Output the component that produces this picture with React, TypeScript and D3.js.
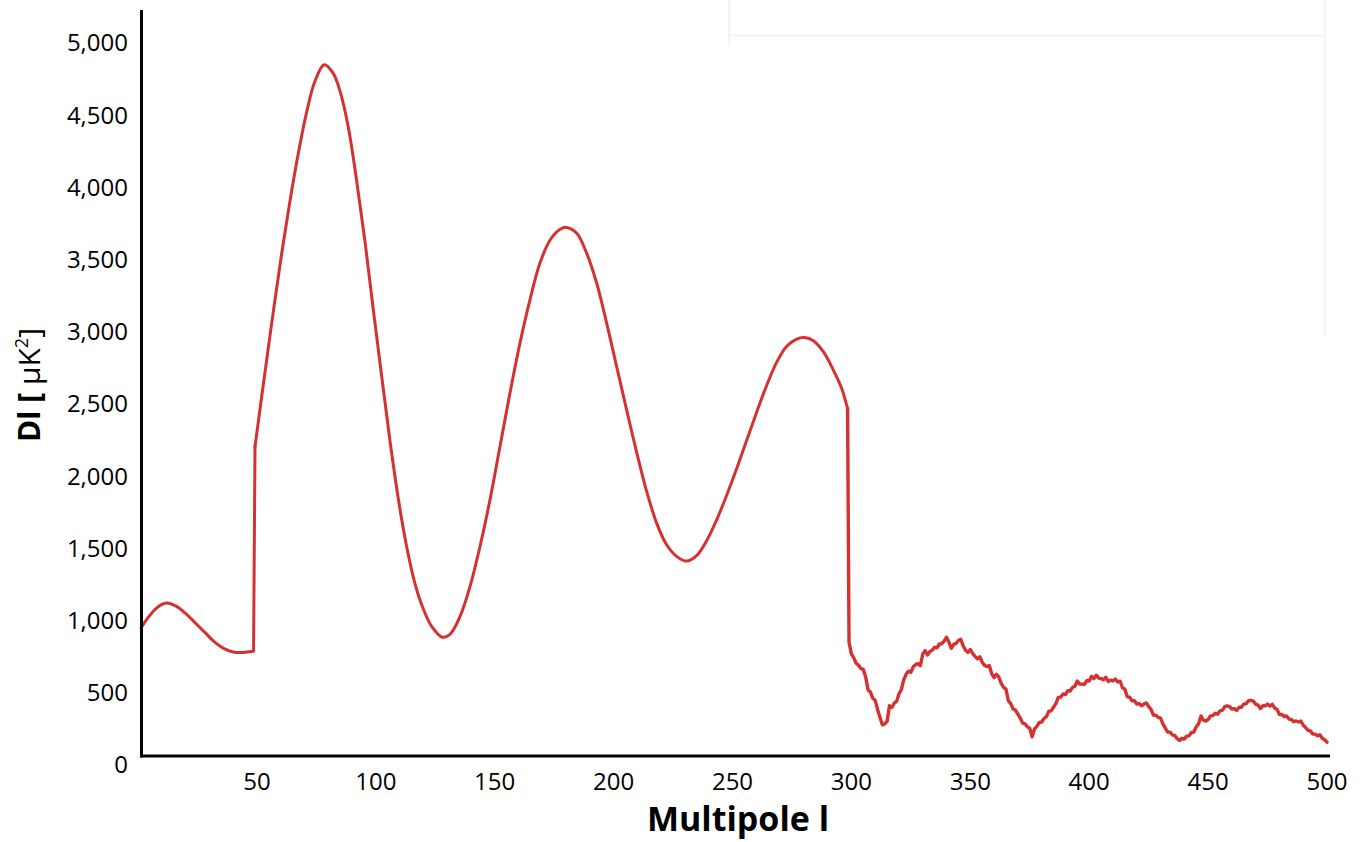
import React from "react";
import * as d3 from "d3";

// ---- data ----
const xTicks = [50, 100, 150, 200, 250, 300, 350, 400, 450, 500];
const yTicks = [0, 500, 1000, 1500, 2000, 2500, 3000, 3500, 4000, 4500, 5000];

// smooth part, first segment (multipole l, Dl)
const segAL = [1.3, 4, 8, 12, 16, 20, 24, 28, 32, 36, 40, 44, 47, 48.6];
const segAD = [949, 1015, 1090, 1122, 1100, 1050, 985, 920, 855, 808, 783, 779, 785, 790];

// smooth part, second segment
const segBL = [
  49.2, 53.4, 56.9, 60.4, 63.9, 67.4, 70.9, 74.4, 78.3, 82.1, 84.9, 88.4, 92, 95.5, 98.9,
  102.5, 106, 109.5, 113, 116.5, 120, 123.5, 128, 131.2, 135.4, 139.6, 143.8, 148, 152.2,
  156.4, 160.6, 164.8, 169, 173.3, 177.5, 180.3, 184.5, 188.7, 192.9, 197.1, 201.3, 205.5,
  209.7, 213.9, 218.1, 222.3, 226.5, 230.7, 234.9, 239.2, 243.4, 247.6, 251.8, 256, 260.2,
  264.4, 268.6, 272.8, 277, 280.3, 284, 288.2, 292.4, 295.9, 298, 298.4,
];
const segBD = [
  2205, 2720, 3140, 3540, 3905, 4235, 4520, 4735, 4850, 4790, 4670, 4420, 4040, 3620, 3160,
  2690, 2240, 1840, 1510, 1255, 1080, 960, 885, 905, 1027, 1235, 1512, 1835, 2204,
  2574, 2920, 3220, 3474, 3636, 3710, 3723, 3682, 3543, 3336, 3059, 2758, 2458,
  2165, 1895, 1675, 1525, 1445, 1412, 1450, 1555, 1700, 1870, 2055, 2250, 2445,
  2630, 2790, 2900, 2950, 2960, 2938, 2862, 2735, 2609, 2493, 2470,
];

// noisy part: one value per multipole, starting at l = 299
const noisyStart = 299;
const noisyD = [
  850, 770, 742, 705, 690, 668, 662, 610, 520, 505, 462, 448, 385, 330, 278, 284, 302, 410, 398, 428,
  440, 492, 522, 590, 628, 650, 642, 680, 695, 702, 688, 768, 792, 762, 786, 795, 815, 812, 838, 840,
  858, 885, 852, 808, 835, 842, 862, 870, 825, 795, 780, 800, 772, 752, 735, 750, 712, 690, 682, 688,
  632, 605, 628, 608, 565, 538, 525, 445, 425, 388, 380, 352, 325, 290, 285, 265, 255, 195, 250, 268,
  295, 298, 322, 335, 372, 375, 400, 425, 468, 470, 492, 488, 515, 512, 538, 545, 582, 560, 560, 558,
  585, 582, 615, 598, 622, 602, 598, 590, 608, 578, 588, 582, 595, 575, 580, 535, 525, 472, 470, 445,
  445, 422, 425, 410, 422, 430, 405, 385, 345, 345, 330, 325, 285, 255, 228, 228, 208, 205, 182, 170,
  185, 180, 200, 202, 225, 228, 265, 285, 340, 310, 305, 315, 340, 342, 358, 352, 375, 378, 405, 410,
  405, 388, 390, 378, 400, 400, 422, 425, 445, 448, 442, 422, 415, 390, 410, 410, 422, 408, 420, 395,
  385, 350, 350, 335, 340, 318, 315, 300, 305, 298, 305, 275, 260, 240, 236, 215, 214, 202, 210, 185,
  175, 158,
];

const W = 1368;
const H = 842;
const FONT = "'Open Sans', 'Noto Sans', sans-serif";
const RED = "#d43131";

type P = [number, number];

export default function App() {
  const x = d3.scaleLinear().domain([0, 500]).range([138, 1327]);
  const y = d3.scaleLinear().domain([0, 5000]).range([765, 43]);
  const fmt = d3.format(",");

  const segA: P[] = segAL.map((l, i) => [l, segAD[i]]);
  const segB: P[] = segBL.map((l, i) => [l, segBD[i]]);
  const jump1: P[] = [segA[segA.length - 1], segB[0]];
  const noisy: P[] = [segB[segB.length - 1]];
  noisyD.forEach((v, i) => noisy.push([noisyStart + i, v]));

  const smoothLine = d3
    .line<P>()
    .x((d) => x(d[0]))
    .y((d) => y(d[1]))
    .curve(d3.curveCatmullRom.alpha(0.5));
  const straight = d3
    .line<P>()
    .x((d) => x(d[0]))
    .y((d) => y(d[1]));

  const axisY = 756;
  const axisX = 141.5;

  return (
    <svg
      width={W}
      height={H}
      style={{ position: "absolute", left: 0, top: 0, background: "#fff" }}
      fontFamily={FONT}
    >
      {/* faint leftover frame at top right */}
      <g stroke="#f1f1f1" strokeWidth={1.5} fill="none">
        <path d="M729,0 V46 M729,35.5 H1325 M1325,0 V335" />
      </g>

      {/* data line */}
      <g fill="none" stroke={RED} strokeWidth={3} strokeLinejoin="round" strokeLinecap="round">
        <path d={smoothLine(segA) || ""} />
        <path d={straight(jump1) || ""} />
        <path d={smoothLine(segB) || ""} />
        <path d={straight(noisy) || ""} strokeWidth={3.4} />
      </g>

      {/* axes */}
      <line x1={axisX} x2={axisX} y1={10} y2={axisY + 1.5} stroke="#000" strokeWidth={3} />
      <line x1={axisX - 1.5} x2={1330} y1={axisY} y2={axisY} stroke="#000" strokeWidth={3} />

      {/* y tick labels */}
      {yTicks.map((t) => (
        <text key={t} x={128} y={y(t)} dy="0.35em" textAnchor="end" fontSize={24} fill="#000">
          {fmt(t)}
        </text>
      ))}

      {/* x tick labels */}
      {xTicks.map((t) => (
        <text key={t} x={x(t)} y={782} dy="0.35em" textAnchor="middle" fontSize={24} fill="#000">
          {fmt(t)}
        </text>
      ))}

      {/* axis titles */}
      <text x={738} y={831} textAnchor="middle" fontSize={34} fontWeight="bold" fill="#000">
        Multipole l
      </text>
      <text transform="translate(40,385) rotate(-90)" textAnchor="middle" fontSize={30} fill="#000">
        <tspan fontWeight="bold">Dl [</tspan>
        <tspan> μK</tspan>
        <tspan fontSize={18} dy={-12}>2</tspan>
        <tspan dy={12}>]</tspan>
      </text>
    </svg>
  );
}
